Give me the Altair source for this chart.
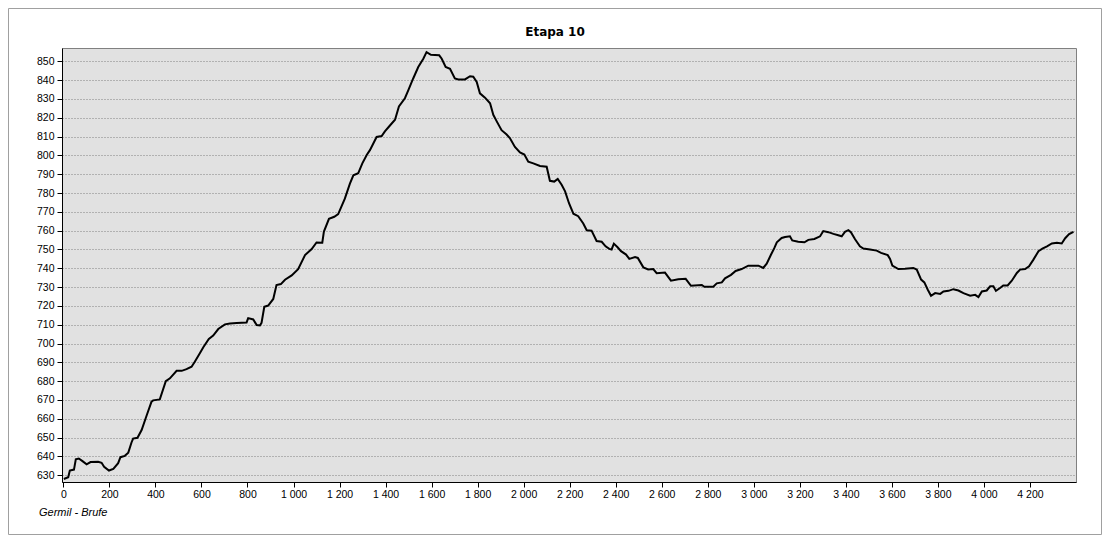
import altair as alt
import pandas as pd

# distance (m) and elevation (m) read from the profile
dist = [2, 21, 28, 46, 54, 67, 83, 101, 118, 151, 166, 177, 198, 217, 238, 248, 267, 282, 296, 303,
        322, 340, 361, 383, 390, 419, 445, 463, 492, 514, 535, 557, 571, 593, 608, 632, 651, 673, 702, 724,
        753, 796, 803, 825, 840, 854, 861, 873, 890, 912, 926, 945, 963, 992, 1020, 1050, 1079, 1100, 1125, 1132,
        1154, 1177, 1194, 1223, 1245, 1260, 1281, 1299, 1318, 1332, 1361, 1383, 1397, 1419, 1441, 1458, 1484, 1499, 1520, 1542,
        1564, 1578, 1597, 1633, 1644, 1661, 1680, 1701, 1716, 1745, 1767, 1781, 1796, 1810, 1832, 1854, 1868, 1883, 1904, 1926,
        1940, 1962, 1984, 2003, 2020, 2042, 2071, 2100, 2114, 2133, 2148, 2165, 2180, 2197, 2216, 2237, 2259, 2274, 2295, 2317,
        2339, 2356, 2372, 2382, 2392, 2408, 2423, 2445, 2459, 2484, 2496, 2520, 2541, 2563, 2578, 2614, 2640, 2672, 2704, 2727,
        2774, 2785, 2824, 2839, 2861, 2875, 2901, 2921, 2947, 2976, 3020, 3041, 3056, 3075, 3089, 3100, 3121, 3136, 3157, 3167,
        3193, 3220, 3237, 3263, 3288, 3302, 3324, 3346, 3367, 3382, 3396, 3411, 3422, 3440, 3461, 3476, 3505, 3534, 3553, 3582,
        3592, 3602, 3628, 3657, 3693, 3708, 3727, 3741, 3756, 3770, 3788, 3810, 3824, 3846, 3867, 3889, 3911, 3940, 3962, 3976,
        3991, 4012, 4027, 4041, 4052, 4070, 4084, 4103, 4121, 4143, 4157, 4179, 4196, 4215, 4237, 4254, 4274, 4295, 4317, 4338,
        4353, 4370, 4389]
elev = [628, 628.9, 632.5, 633, 638.5, 638.9, 637.5, 635.8, 637, 637.2, 636.6, 634.5, 632.5, 633.4, 636.4, 639.6, 640.3, 642, 647.4, 649.5,
        649.9, 654, 661.5, 669.1, 669.8, 670.3, 680, 681.5, 685.5, 685.5, 686.4, 687.7, 690.3, 694.8, 698, 702.4, 704.2, 707.7, 710.2, 710.6,
        710.9, 711.2, 713.5, 712.8, 709.8, 709.6, 711, 719.5, 720.2, 723.7, 731.1, 731.6, 733.9, 736.2, 739.5, 747, 750.2, 753.7, 753.6, 759.5,
        766.3, 767.4, 768.8, 777, 785, 789.4, 790.5, 795.8, 800.2, 802.8, 809.8, 810.3, 812.8, 815.9, 819, 826, 830.4, 834.7, 840.9, 847,
        851.4, 854.9, 853.5, 853.2, 851.4, 847, 846.1, 840.9, 840.4, 840.4, 842.1, 841.8, 839.1, 833, 830.7, 827.7, 821.6, 818.1, 813.4, 811.1,
        809.2, 804.5, 801.6, 800.5, 796.7, 795.8, 794.4, 794, 786.5, 786.1, 787.5, 784.4, 780.9, 774.6, 769, 767.7, 763.8, 760.2, 760, 754.5,
        754.1, 751.7, 750.3, 750, 753.1, 751.2, 749.1, 747.3, 745, 746, 745.5, 740.5, 739.4, 739.6, 737.4, 737.7, 733.4, 734.2, 734.4, 730.7,
        731.1, 730.2, 730.2, 732, 732.5, 734.7, 736.5, 738.6, 739.6, 741.4, 741.4, 740.2, 742.5, 747.3, 750.7, 753.8, 756.1, 756.6, 757, 754.8,
        754.1, 753.8, 755.1, 755.6, 757, 759.8, 759.2, 758.3, 757.6, 757, 759.4, 760.3, 759.2, 755.4, 751.7, 750.5, 750, 749.4, 748.2, 747,
        745, 741.4, 739.6, 739.8, 740.2, 739.3, 734, 732.5, 728.6, 725.4, 726.8, 726.4, 727.7, 728, 728.9, 728.2, 726.8, 725.4, 725.9, 724.7,
        727.7, 728.2, 730.4, 730.4, 728, 729.5, 730.9, 730.9, 733.4, 737.5, 739.3, 739.6, 741.1, 744.6, 749.1, 750.4, 751.7, 753.2, 753.6, 753.2,
        756, 758.2, 759.4]

x_ticks = list(range(0, 4201, 200))
y_ticks = list(range(630, 851, 10))
title_text = "Etapa 10"
footer_text = "Germil - Brufe"

df = pd.DataFrame({"dist": dist, "elev": elev})

FONT = "Liberation Sans"

line = alt.Chart(df).mark_line(color="black", strokeWidth=2).encode(
    x=alt.X("dist:Q",
            scale=alt.Scale(domain=[-6, 4400], nice=False, zero=False),
            axis=alt.Axis(values=x_ticks, title=None, grid=False,
                          labelExpr="replace(format(datum.value, ','), ',', ' ')",
                          labelFlush=False, tickSize=5, tickColor="black",
                          domainColor="black", labelColor="black",
                          labelFont=FONT, labelFontSize=10.5, labelPadding=2)),
    y=alt.Y("elev:Q",
            scale=alt.Scale(domain=[626.4, 857.1], nice=False, zero=False),
            axis=alt.Axis(values=y_ticks, title=None, grid=True,
                          gridDash=[1, 2], gridColor="#808080", gridWidth=1,
                          tickSize=5, tickColor="black", domainColor="black",
                          labelColor="black", labelFont=FONT, labelFontSize=10.5,
                          labelPadding=3)),
)

one = alt.Data(values=[{"k": 1}])

title = alt.Chart(one).mark_text(
    text=title_text, font="DejaVu Sans", fontWeight="bold", fontSize=12,
    align="center", baseline="alphabetic", color="black"
).encode(x=alt.value(493), y=alt.value(-12))

footer = alt.Chart(one).mark_text(
    text=footer_text, font=FONT, fontStyle="italic", fontSize=11,
    align="left", baseline="alphabetic", color="black"
).encode(x=alt.value(-23), y=alt.value(468))

border = alt.Chart(one).mark_rect(
    fillOpacity=0, stroke="#a0a0a0", strokeWidth=1
).encode(x=alt.value(-53.5), x2=alt.value(1039.5), y=alt.value(-39.5), y2=alt.value(486.5))

chart = alt.layer(border, line, title, footer).properties(
    width=1014, height=434,
    autosize=alt.AutoSizeParams(type="none"),
    padding={"left": 54, "top": 40, "right": 26, "bottom": 53},
    background="white",
).configure_view(
    fill="#e1e1e1", stroke="#808080", strokeWidth=1
)

chart.save("out.html", embed_options={"renderer": "svg", "actions": False})
